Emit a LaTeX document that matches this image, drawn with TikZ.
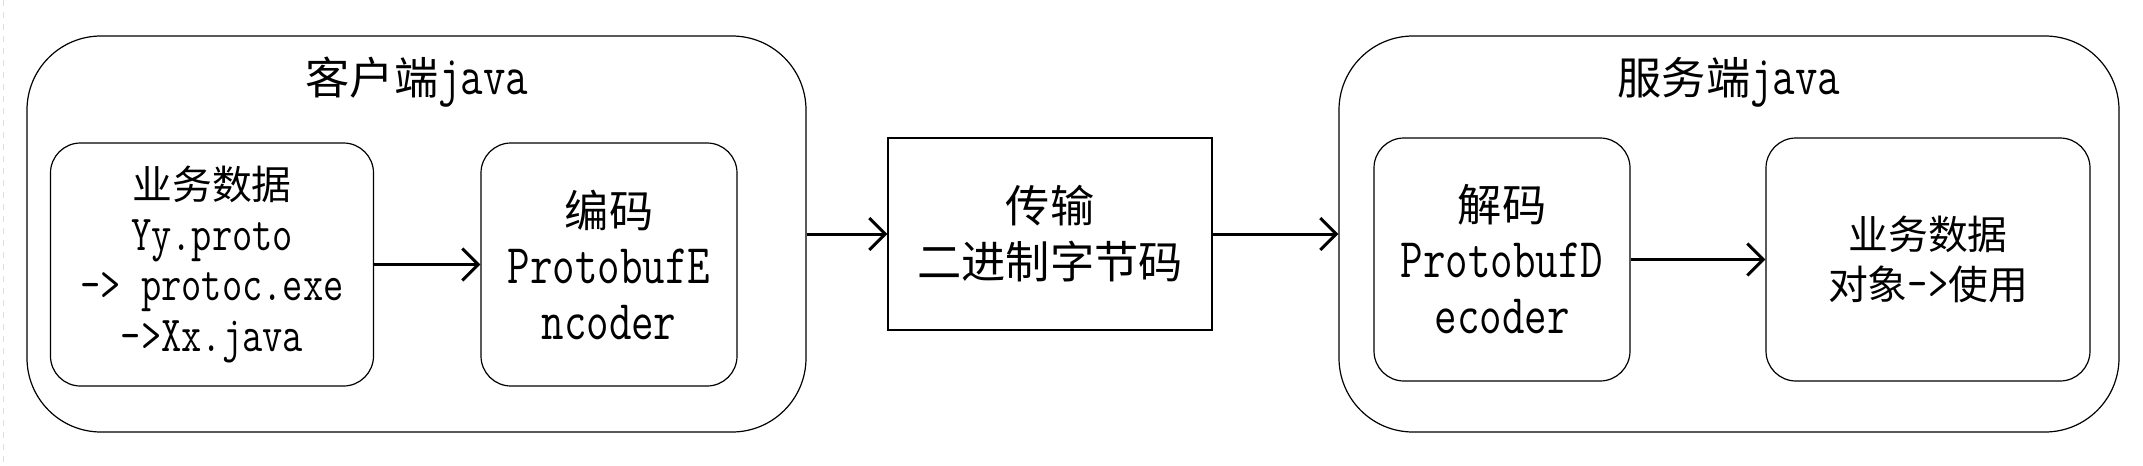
\documentclass[tikz,border=0pt]{standalone}
\usepackage{fontspec}
\setmainfont{Latin Modern Mono}[FakeStretch=0.78]
\newfontfamily\cjk{Noto Sans CJK SC}[Scale=0.79]
\usetikzlibrary{arrows.meta}
\tikzset{
  outerbox/.style={draw, line width=0.6pt, rounded corners=37pt, inner sep=0pt},
  innerbox/.style={draw, line width=0.6pt, rounded corners=15pt, inner sep=0pt, align=center},
  midbox/.style={draw, line width=0.6pt, inner sep=0pt, align=center},
  bigtxt/.style={font=\fontsize{28}{28}\selectfont},
  smalltxt/.style={font=\fontsize{25.2}{25.2}\selectfont},
  flow/.style={line width=1.5pt, -{Straight Barb[length=8pt,width=16pt]}},
}
\begin{document}
\begin{tikzpicture}[x=0.5pt,y=-0.5pt]
\useasboundingbox (0,0) rectangle (2143,466);
\coordinate (et) at (3,0);
\coordinate (eb) at (3,466);
\draw[black!12, dashed, line width=0.5pt] (et) -- (eb);
% client
\node[outerbox, minimum width=389.5pt, minimum height=198pt] (client) at (416.5,234) {};
\node[bigtxt, inner sep=0pt] (ctitle) at (417,82) {{\cjk 客户端}java};
\node[innerbox, smalltxt, minimum width=161.5pt, minimum height=121.5pt] (cdata) at (212,264.5)
  {{\cjk 业务数据}\\Yy.proto\\-\textgreater{} protoc.exe\\-\textgreater{}Xx.java};
\node[innerbox, bigtxt, minimum width=128pt, minimum height=121.5pt] (enc) at (609,264.5)
  {{\cjk 编码}\\ProtobufE\\ncoder};
% middle
\node[midbox, bigtxt, minimum width=162pt, minimum height=96pt] (mid) at (1050,234)
  {{\cjk 传输}\\{\cjk 二进制字节码}};
% server
\node[outerbox, minimum width=390pt, minimum height=198pt] (server) at (1729,234) {};
\node[bigtxt, inner sep=0pt] (stitle) at (1729,82) {{\cjk 服务端}java};
\node[innerbox, bigtxt, minimum width=128pt, minimum height=121.5pt] (dec) at (1502,259.5)
  {{\cjk 解码}\\ProtobufD\\ecoder};
\node[innerbox, smalltxt, minimum width=162pt, minimum height=121.5pt] (sdata) at (1928,259.5)
  {{\cjk 业务数据}\\{\cjk 对象}-\textgreater{\cjk 使用}};
% arrows
\draw[flow] (cdata.east) -- (enc.west);
\draw[flow] (client.east) -- (mid.west);
\draw[flow] (mid.east) -- (server.west);
\draw[flow] (dec.east) -- (sdata.west);
\end{tikzpicture}
\end{document}
